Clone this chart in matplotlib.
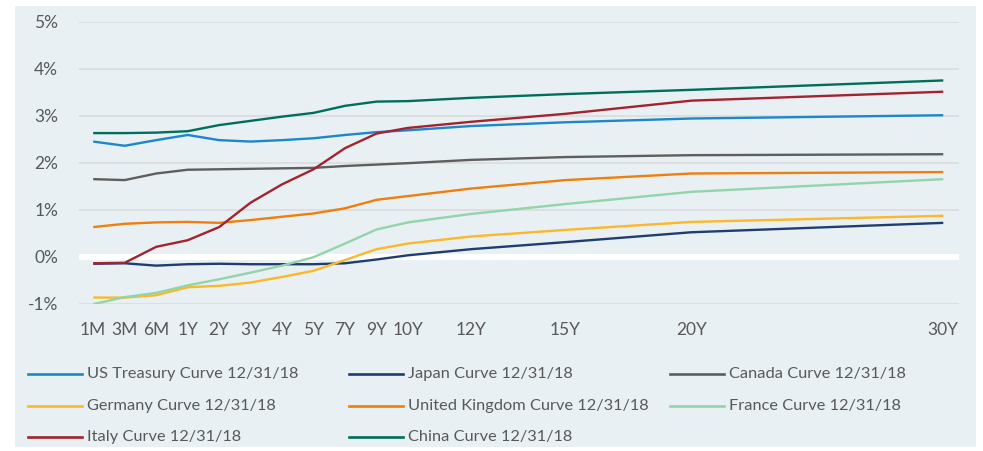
import numpy as np
import matplotlib
matplotlib.use("Agg")
import matplotlib.pyplot as plt
from matplotlib.lines import Line2D
from matplotlib.patches import Rectangle

plt.rcParams['font.family'] = ['Lato', 'DejaVu Sans']

# tenors and their spot on the axis (the original chart squeezes the long end)
tenors = ['1M', '3M', '6M', '1Y', '2Y', '3Y', '4Y', '5Y', '7Y', '9Y', '10Y', '12Y', '15Y', '20Y', '30Y']
tenor_pos = [0, 1, 2, 3, 4, 5, 6, 7, 8, 9, 10, 12, 15, 19, 27]

us_treasury = [2.45, 2.36, 2.48, 2.59, 2.48, 2.45, 2.48, 2.52, 2.59, 2.65, 2.69, 2.78, 2.86, 2.94, 3.01]
japan = [-0.15, -0.14, -0.19, -0.16, -0.15, -0.16, -0.16, -0.16, -0.14, -0.06, 0.03, 0.16, 0.31, 0.52, 0.72]
canada = [1.65, 1.63, 1.77, 1.85, 1.86, 1.87, 1.88, 1.89, 1.93, 1.96, 1.99, 2.06, 2.12, 2.16, 2.18]
germany = [-0.87, -0.87, -0.82, -0.65, -0.62, -0.55, -0.43, -0.30, -0.07, 0.16, 0.28, 0.43, 0.57, 0.74, 0.87]
uk = [0.63, 0.70, 0.73, 0.74, 0.72, 0.78, 0.85, 0.92, 1.03, 1.21, 1.29, 1.45, 1.63, 1.77, 1.80]
france = [-1.01, -0.86, -0.77, -0.61, -0.48, -0.34, -0.19, -0.01, 0.28, 0.58, 0.73, 0.91, 1.12, 1.38, 1.65]
italy = [-0.14, -0.13, 0.21, 0.35, 0.63, 1.15, 1.54, 1.86, 2.31, 2.62, 2.74, 2.87, 3.04, 3.32, 3.51]
china = [2.63, 2.63, 2.64, 2.67, 2.80, 2.89, 2.98, 3.06, 3.21, 3.30, 3.31, 3.38, 3.46, 3.55, 3.75]

series = [
    ('US Treasury Curve 12/31/18', us_treasury, '#1C87C9'),
    ('Japan Curve 12/31/18', japan, '#1F3D6E'),
    ('Canada Curve 12/31/18', canada, '#5E5E5E'),
    ('Germany Curve 12/31/18', germany, '#FDB827'),
    ('United Kingdom Curve 12/31/18', uk, '#F07E0A'),
    ('France Curve 12/31/18', france, '#93D4AA'),
    ('Italy Curve 12/31/18', italy, '#A3232F'),
    ('China Curve 12/31/18', china, '#006E5B'),
]

bg = '#E8F0F3'
txt = '#595959'

fig = plt.figure(figsize=(9.83, 4.51), dpi=100)
fig.patch.set_facecolor('white')
# chart area panel, behind everything
fig.patches.append(Rectangle((15 / 983, 4 / 451), 961 / 983, 441 / 451,
                             transform=fig.transFigure, facecolor=bg,
                             edgecolor='none', zorder=-5))

ax = fig.add_axes([0.0804, 0.3266, 0.8952, 0.6253])
ax.set_facecolor('none')

yticks = [-1, 0, 1, 2, 3, 4, 5]
for v in yticks:
    if v != 0:
        ax.axhline(v, color='#D9D9D9', linewidth=1.1, zorder=1)
ax.axhline(0, color='white', linewidth=4.5, zorder=2)

for name, vals, col in series:
    ax.plot(tenor_pos, vals, color=col, linewidth=1.7, zorder=3,
            solid_capstyle='butt', label=name)

ax.set_xlim(-0.45, 27.5)
ax.set_ylim(-1, 5)
ax.set_yticks(yticks)
ax.set_yticklabels([f'{v}%' for v in yticks])
ax.set_xticks(tenor_pos)
ax.set_xticklabels(tenors)
ax.tick_params(axis='both', length=0, labelsize=12.5, colors=txt)
ax.tick_params(axis='y', pad=15)
ax.tick_params(axis='x', pad=13)
for s in ax.spines.values():
    s.set_visible(False)

# legend laid out as in the original: 3 fixed-width columns
col_x = [28, 349, 670]
row_y = [374, 406, 437]
for i, (name, vals, col) in enumerate(series):
    x0 = col_x[i % 3]
    y0 = row_y[i // 3]
    fy = 1 - y0 / 451
    fig.add_artist(Line2D([x0 / 983, (x0 + 54) / 983], [fy, fy],
                          transform=fig.transFigure, color=col, linewidth=1.9))
    fig.text((x0 + 59) / 983, fy, name, fontsize=11.8, color=txt,
             va='center', ha='left')

plt.savefig('out.png', dpi=100)
